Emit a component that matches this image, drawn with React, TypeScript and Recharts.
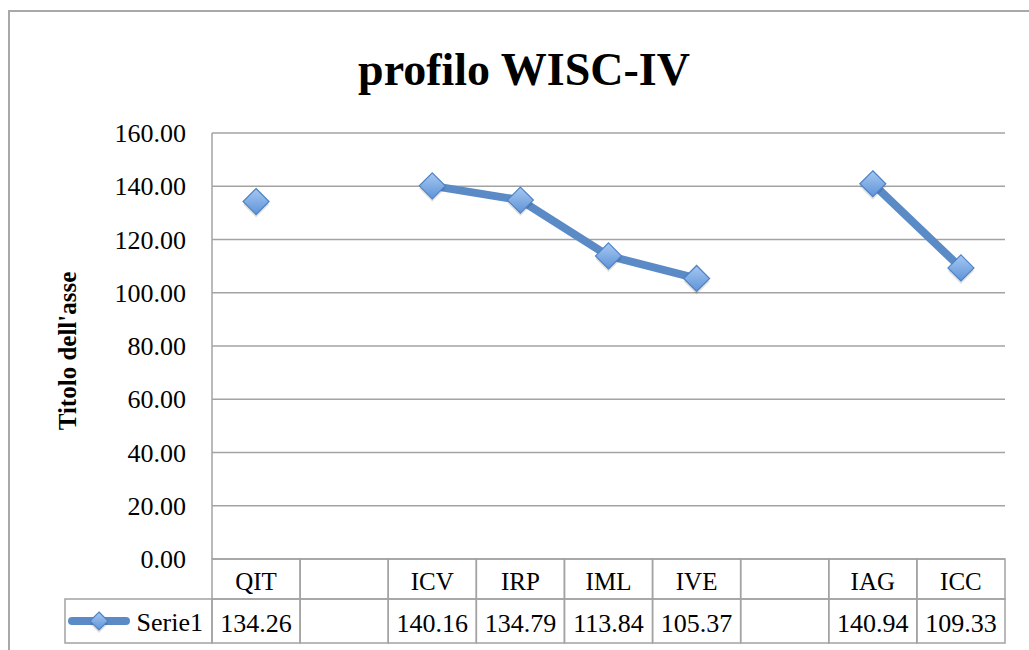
import React from 'react';
import { LineChart, Line, XAxis, YAxis, CartesianGrid } from 'recharts';

const categories = ['QIT', '', 'ICV', 'IRP', 'IML', 'IVE', '', 'IAG', 'ICC'];
const serie1: (number | null)[] = [134.26, null, 140.16, 134.79, 113.84, 105.37, null, 140.94, 109.33];
const yTicks = [0, 20, 40, 60, 80, 100, 120, 140, 160];
const seriesName = 'Serie1';

const data = categories.map((c, i) => ({ key: `c${i}`, label: c, value: serie1[i] }));

const W = 1029;
const H = 650;
const PLOT_LEFT = 212;
const PLOT_RIGHT = 1005;
const PLOT_TOP = 133;
const PLOT_BOTTOM = 559;
const CELL_W = (PLOT_RIGHT - PLOT_LEFT) / categories.length;
const ROW1 = 40;
const ROW2 = 44;
const LEGEND_LEFT = 65;

const gridColor = '#a3a3a3';
const lineColor = '#5a8bc6';
const font = "'Liberation Serif', 'DejaVu Serif', serif";
const textStyle = { fontFamily: font };

const Diamond = ({ cx, cy, r, id }: { cx: number; cy: number; r: number; id: string }) => (
  <g>
    <defs>
      <linearGradient id={id} x1="0" y1="0" x2="0" y2="1">
        <stop offset="0%" stopColor="#a6c8f2" />
        <stop offset="100%" stopColor="#5f93d8" />
      </linearGradient>
    </defs>
    <path
      d={`M${cx},${cy - r + 3}L${cx + r},${cy + 3}L${cx},${cy + r + 3}L${cx - r},${cy + 3}Z`}
      fill="rgba(0,0,0,0.12)"
    />
    <path
      d={`M${cx},${cy - r}L${cx + r},${cy}L${cx},${cy + r}L${cx - r},${cy}Z`}
      fill={`url(#${id})`}
      stroke="#4f82c4"
      strokeWidth={1.2}
    />
  </g>
);

const renderDot = (props: any) => {
  const { cx, cy, index, value } = props;
  if (value == null || cx == null || cy == null) return <g key={`d${index}`} />;
  return <Diamond key={`d${index}`} cx={cx} cy={cy} r={13} id={`dg${index}`} />;
};

const TableTick = (props: any) => {
  const { x, index } = props;
  const y = PLOT_BOTTOM;
  const left = x - CELL_W / 2;
  const v = serie1[index];
  return (
    <g>
      <rect x={left} y={y} width={CELL_W} height={ROW1} fill="none" stroke={gridColor} strokeWidth={1.5} />
      <rect x={left} y={y + ROW1} width={CELL_W} height={ROW2} fill="none" stroke={gridColor} strokeWidth={1.5} />
      <text x={x} y={y + 31} textAnchor="middle" fontSize={25} style={textStyle} fill="#000">
        {categories[index]}
      </text>
      <text x={x} y={y + ROW1 + 33} textAnchor="middle" fontSize={26} style={textStyle} fill="#000">
        {v == null ? '' : v.toFixed(2)}
      </text>
      {index === 0 && (
        <g>
          <rect
            x={LEGEND_LEFT}
            y={y + ROW1}
            width={left - LEGEND_LEFT}
            height={ROW2}
            fill="none"
            stroke={gridColor}
            strokeWidth={1.5}
          />
          <line x1={72} y1={y + ROW1 + 22} x2={126} y2={y + ROW1 + 22} stroke={lineColor} strokeWidth={8} strokeLinecap="round" />
          <Diamond cx={99} cy={y + ROW1 + 22} r={9} id="lg" />
          <text x={203} y={y + ROW1 + 32} textAnchor="end" fontSize={26} style={textStyle} fill="#000">
            {seriesName}
          </text>
        </g>
      )}
    </g>
  );
};

const AxisTitle = () => {
  const cy = (PLOT_TOP + PLOT_BOTTOM) / 2 + 5;
  return (
    <text
      x={67}
      y={cy}
      transform={`rotate(-90, 67, ${cy})`}
      textAnchor="middle"
      dominantBaseline="central"
      fontSize={25}
      fontWeight="bold"
      style={textStyle}
      fill="#000"
    >
      Titolo dell'asse
    </text>
  );
};

export default function App() {
  return (
    <div style={{ position: 'fixed', left: 0, top: 0, width: W, height: H, overflow: 'hidden', background: '#fff' }}>
      <div
        style={{
          position: 'absolute',
          left: 8,
          top: 10,
          width: W + 50,
          height: H + 50,
          border: '2px solid #a8a8a8',
        }}
      />
      <div
        style={{
          position: 'absolute',
          left: 524 - 300,
          width: 600,
          top: 38,
          textAlign: 'center',
          fontFamily: font,
          fontWeight: 'bold',
          fontSize: 46,
          lineHeight: '64px',
          color: '#000',
        }}
      >
        profilo WISC-IV
      </div>
      <div style={{ position: 'absolute', left: 0, top: 0 }}>
        <LineChart
          width={W}
          height={H}
          data={data}
          margin={{ top: PLOT_TOP, right: W - PLOT_RIGHT, bottom: 0, left: 0 }}
        >
          <CartesianGrid horizontal vertical={false} stroke={gridColor} strokeWidth={1.5} />
          <XAxis
            dataKey="key"
            scale="band"
            height={H - PLOT_BOTTOM}
            axisLine={false}
            tickLine={false}
            tickSize={0}
            interval={0}
            tick={<TableTick />}
          />
          <YAxis
            width={PLOT_LEFT}
            domain={[0, 160]}
            ticks={yTicks}
            interval={0}
            tickFormatter={(v: number) => v.toFixed(2)}
            axisLine={{ stroke: gridColor, strokeWidth: 1.5 }}
            tickLine={false}
            tickSize={0}
            tickMargin={26}
            tick={{ fontSize: 26, fill: '#000', style: textStyle }}
            label={{ content: <AxisTitle /> }}
          />
          <Line
            type="linear"
            dataKey="value"
            stroke={lineColor}
            strokeWidth={8}
            dot={renderDot}
            activeDot={false}
            connectNulls={false}
            isAnimationActive={false}
          />
        </LineChart>
      </div>
    </div>
  );
}
